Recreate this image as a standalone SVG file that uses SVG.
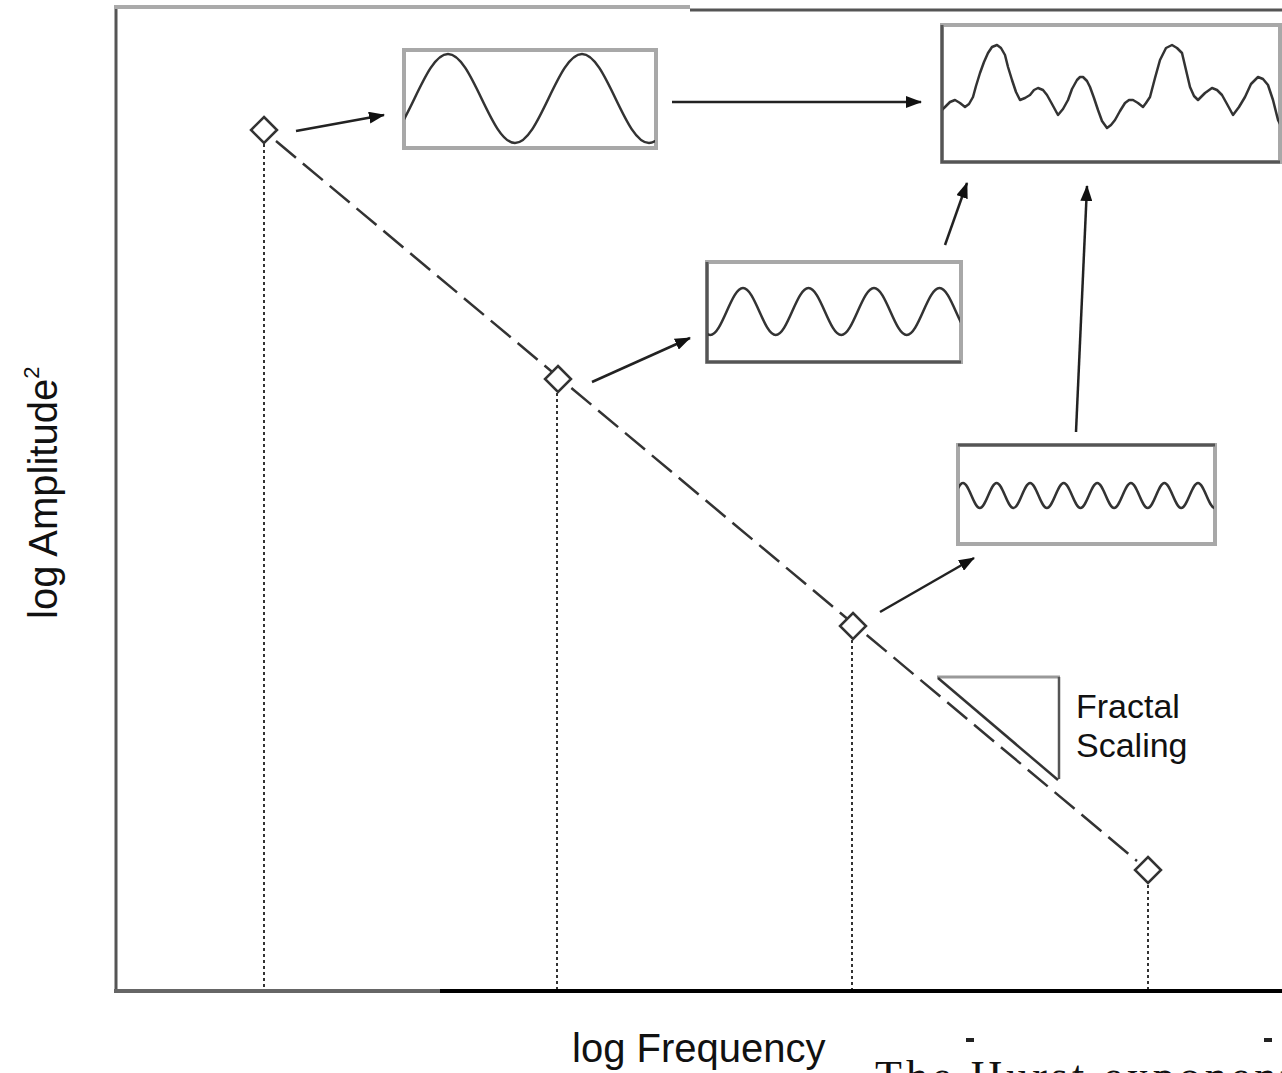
<svg xmlns="http://www.w3.org/2000/svg" width="1282" height="1073" viewBox="0 0 1282 1073">
<style>
.box{fill:#fff;stroke:#a8a8a8;stroke-width:4}
.dk{stroke:#555;stroke-width:3;fill:none}
.wave{fill:none;stroke:#333;stroke-width:2.5;stroke-linejoin:round;stroke-linecap:round}
.dia{fill:#fff;stroke:#333;stroke-width:2.5}
.dot{stroke:#333;stroke-width:2;stroke-dasharray:3 3;fill:none}
.arr{stroke:#222;stroke-width:2.5;fill:none;marker-end:url(#ah)}
.lbl{font-family:"Liberation Sans",Arial,sans-serif;fill:#111}
</style>
<defs>
<marker id="ah" markerWidth="16" markerHeight="12" refX="15" refY="6" orient="auto" markerUnits="userSpaceOnUse"><path d="M0,0 L16,6 L0,12 z" fill="#111"/></marker>
<clipPath id="c1"><rect x="405" y="51" width="250" height="96"/></clipPath>
<clipPath id="c2"><rect x="943" y="26" width="336" height="135"/></clipPath>
<clipPath id="c3"><rect x="708" y="263" width="252" height="98"/></clipPath>
<clipPath id="c4"><rect x="959" y="446" width="255" height="97"/></clipPath>
</defs>
<rect width="1282" height="1073" fill="#fff"/>

<g id="frame">
<line x1="116" y1="7" x2="116" y2="991" stroke="#555" stroke-width="3"/>
<line x1="114" y1="7" x2="690" y2="7" stroke="#aaa" stroke-width="4"/>
<line x1="690" y1="10" x2="1282" y2="10" stroke="#555" stroke-width="3"/>
<line x1="114" y1="991" x2="440" y2="991" stroke="#666" stroke-width="4"/>
<line x1="440" y1="991" x2="1282" y2="991" stroke="#000" stroke-width="4"/>
</g>

<g id="connectors">
<line x1="276" y1="141" x2="1137" y2="861" stroke="#333" stroke-width="2.5" stroke-dasharray="26 9"/>
<line class="dot" x1="264" y1="144" x2="264" y2="989"/>
<line class="dot" x1="557" y1="393" x2="557" y2="989"/>
<line class="dot" x1="852" y1="640" x2="852" y2="989"/>
<line class="dot" x1="1148" y1="885" x2="1148" y2="989"/>
<line class="arr" x1="296" y1="131" x2="384" y2="115"/>
<line class="arr" x1="672" y1="102" x2="921" y2="102"/>
<line class="arr" x1="592" y1="382" x2="690" y2="338"/>
<line class="arr" x1="945" y1="245" x2="967" y2="183"/>
<line class="arr" x1="880" y1="612" x2="974" y2="558"/>
<line class="arr" x1="1076" y1="432" x2="1087" y2="186"/>
</g>

<g id="d1"><path class="dia" d="M264,117 L277,130 L264,143 L251,130 Z"/></g>
<g id="d2"><path class="dia" d="M558,366 L571,379 L558,392 L545,379 Z"/></g>
<g id="d3"><path class="dia" d="M853,613 L866,626 L853,639 L840,626 Z"/></g>
<g id="d4"><path class="dia" d="M1148,857 L1161,870 L1148,883 L1135,870 Z"/></g>

<g id="box1">
<rect class="box" x="404" y="50" width="252" height="98"/>
<path class="wave" clip-path="url(#c1)" d="M381,143 C405.35,143 423.65,54 448,54 S490.65,143 515,143 S557.65,54 582,54 S624.65,143 649,143 S691.65,54 716,54"/>
</g>

<g id="box2">
<rect class="box" x="942" y="25" width="338" height="137"/>
<path class="dk" d="M942,25 L942,162 L1280,162"/>
<polyline class="wave" clip-path="url(#c2)" points="942,110 945,107 950,102 955,100 960,103 965,107 969,104 973,97 976,86 980,73 984,62 988,53 992,47 997,45 1001,48 1005,55 1008,67 1012,80 1016,92 1020,100 1025,98 1030,95 1034,90 1038,88 1043,90 1047,95 1052,104 1058,115 1063,109 1068,100 1072,89 1077,80 1080,77 1083,77 1087,81 1090,87 1094,98 1098,110 1102,121 1107,128 1111,125 1115,120 1120,111 1125,103 1129,100 1133,100 1138,103 1143,107 1146,103 1150,97 1155,78 1160,60 1166,48 1172,45 1177,48 1182,53 1186,70 1190,87 1194,96 1198,100 1205,93 1212,88 1217,90 1222,95 1227,104 1233,115 1239,107 1245,97 1251,84 1258,77 1263,79 1268,85 1273,100 1278,120 1281,126"/>
</g>

<g id="box3">
<rect class="box" x="707" y="262" width="254" height="100"/>
<path class="dk" d="M707,262 L707,362 L961,362"/>
<path class="wave" clip-path="url(#c3)" d="M677.5,288 C689.4,288 698.35,335 710.25,335 S731.1,288 743,288 S763.85,335 775.75,335 S796.6,288 808.5,288 S829.35,335 841.25,335 S862.1,288 874,288 S894.85,335 906.75,335 S927.6,288 939.5,288 S960.35,335 972.25,335"/>
</g>

<g id="box4">
<rect class="box" x="958" y="445" width="257" height="99"/>
<path class="dk" d="M958,445 L1215,445"/>
<path class="wave" clip-path="url(#c4)" d="M946.2,508 C952.3,508 956.9,483 963,483 S973.7,508 979.8,508 S990.5,483 996.6,483 S1007.3,508 1013.4,508 S1024,483 1030.1,483 S1040.8,508 1046.9,508 S1057.6,483 1063.7,483 S1074.4,508 1080.5,508 S1091.2,483 1097.3,483 S1108,508 1114.1,508 S1124.8,483 1130.9,483 S1141.6,508 1147.7,508 S1158.3,483 1164.4,483 S1175.1,508 1181.2,508 S1191.9,483 1198,483 S1208.7,508 1214.8,508"/>
</g>

<g id="fractal">
<line x1="937" y1="677" x2="1060" y2="677" stroke="#999" stroke-width="3"/>
<line x1="1059" y1="677" x2="1059" y2="779" stroke="#555" stroke-width="2.5"/>
<line x1="938" y1="678" x2="1058" y2="780" stroke="#333" stroke-width="2.5"/>
<text class="lbl" x="1076" y="718" font-size="34">Fractal</text>
<text class="lbl" x="1076" y="757" font-size="34">Scaling</text>
</g>

<g id="labels">
<text class="lbl" x="572" y="1062" font-size="40">log Frequency</text>
<text class="lbl" font-size="40" transform="translate(57,619) rotate(-90)">log Amplitude<tspan font-size="22" dy="-18">2</tspan></text>
<text x="875" y="1091" font-family="'Liberation Serif','Times New Roman',serif" font-size="44" letter-spacing="4" fill="#111">The Hurst exponent</text>
<rect x="966" y="1038" width="8" height="4" fill="#222"/>
<rect x="1264" y="1038" width="8" height="4" fill="#222"/>
</g>
</svg>
